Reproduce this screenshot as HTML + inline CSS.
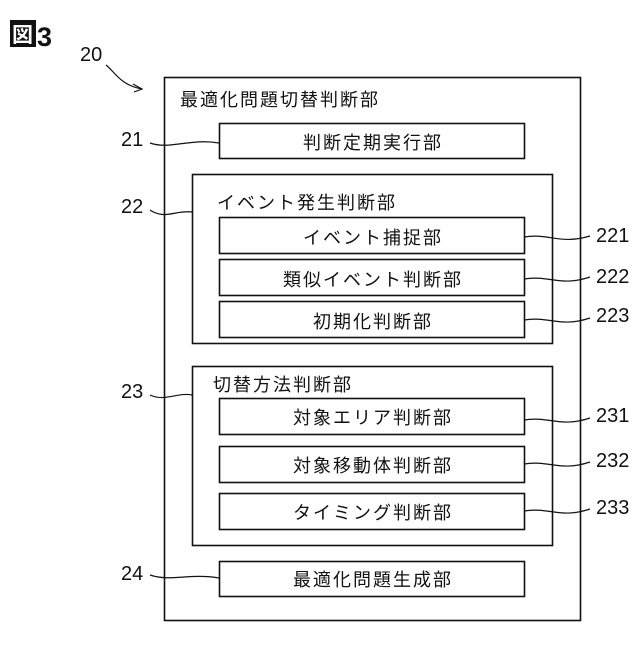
<!DOCTYPE html>
<html><head><meta charset="utf-8"><style>
body{margin:0;background:#fff}
text{font-family:"Liberation Sans","Noto Sans CJK JP",sans-serif;fill:#111}
</style></head><body>
<svg width="640" height="640" xmlns="http://www.w3.org/2000/svg">
<g fill="none" stroke="#111" stroke-width="1.6">
<rect x="164.5" y="77.5" width="416" height="543"/>
<rect x="219.5" y="123.5" width="305" height="35"/>
<rect x="192.5" y="174.5" width="360" height="169"/>
<rect x="219.5" y="217.5" width="305" height="36"/>
<rect x="219.5" y="259.5" width="305" height="36"/>
<rect x="219.5" y="301.5" width="305" height="36"/>
<rect x="192.5" y="366.5" width="360" height="179"/>
<rect x="219.5" y="398.5" width="305" height="36"/>
<rect x="219.5" y="446.5" width="305" height="36"/>
<rect x="219.5" y="493.5" width="305" height="36"/>
<rect x="219.5" y="561.5" width="305" height="35"/>
</g>
<g fill="none" stroke="#111" stroke-width="1.2">
<path d="M106 65 C115 72,120 85,142 89"/>
<path d="M133 84 L142 89 L134 92"/>
<path d="M150 143 C170 150,190 138,219 143"/>
<path d="M150 210 C165 220,175 210,192 212"/>
<path d="M524 237 C550 233,560 245,590 236"/>
<path d="M524 279 C550 275,560 287,590 277"/>
<path d="M524 320 C550 316,560 328,590 318"/>
<path d="M524 420 C550 416,560 428,590 418"/>
<path d="M524 464 C550 460,560 472,590 462"/>
<path d="M524 511 C550 507,560 519,590 509"/>
<path d="M150 395 C165 402,178 392,192 395"/>
<path d="M150 575 C170 582,190 573,219 578"/>
</g>
<rect x="10" y="20" width="26" height="27" fill="#111"/>
<text x="12" y="42" font-size="21" font-weight="bold" style="fill:#fff">図</text>
<text x="37" y="46" font-size="27" font-weight="bold">3</text>
<g font-size="20">
<text x="80" y="61">20</text>
<text x="121" y="146">21</text>
<text x="121" y="213">22</text>
<text x="121" y="398">23</text>
<text x="121" y="580">24</text>
<text x="596" y="242">221</text>
<text x="596" y="283">222</text>
<text x="596" y="322">223</text>
<text x="596" y="422">231</text>
<text x="596" y="467">232</text>
<text x="596" y="514">233</text>
</g>
<g font-size="18" letter-spacing="2">
<text x="180" y="106">最適化問題切替判断部</text>
<text x="373" y="149" text-anchor="middle">判断定期実行部</text>
<text x="217" y="209">イベント発生判断部</text>
<text x="373" y="244" text-anchor="middle">イベント捕捉部</text>
<text x="373" y="286" text-anchor="middle">類似イベント判断部</text>
<text x="373" y="328" text-anchor="middle">初期化判断部</text>
<text x="213" y="391">切替方法判断部</text>
<text x="373" y="424" text-anchor="middle">対象エリア判断部</text>
<text x="373" y="472" text-anchor="middle">対象移動体判断部</text>
<text x="373" y="519" text-anchor="middle">タイミング判断部</text>
<text x="373" y="586" text-anchor="middle">最適化問題生成部</text>
</g>
</svg>
</body></html>
